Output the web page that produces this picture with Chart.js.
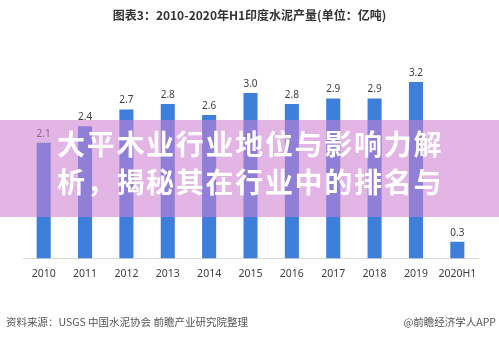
<!DOCTYPE html>
<html>
<head>
<meta charset="utf-8">
<script src="https://cdn.jsdelivr.net/npm/chart.js@4/dist/chart.umd.min.js"></script>
<style>
  html, body { margin: 0; padding: 0; background: #fff; }
  #wrap { position: relative; width: 499px; height: 338px; overflow: hidden; font-family: "Noto Sans CJK SC", "Noto Sans", sans-serif; }
  #chart { position: absolute; left: 0; top: 0; }
  .title { position: absolute; top: 6px; left: 0; width: 499px; text-align: center; font-size: 12px; font-weight: bold; color: #333; }
  .band { position: absolute; left: 0; top: 120px; width: 499px; height: 97px; background: rgba(205, 128, 210, 0.58); }
  .band div { position: absolute; left: 57px; color: #fff; font-size: 28px; font-weight: bold; letter-spacing: 1.7px; white-space: nowrap; line-height: 30px; }
  .src { position: absolute; left: 6px; top: 314px; font-size: 10.5px; color: #555; }
  .app { position: absolute; right: 3px; top: 314px; font-size: 10.5px; color: #555; }
</style>
</head>
<body>
<div id="wrap">
  <canvas id="chart" width="499" height="338"></canvas>
  <div class="title">图表3：2010-2020年H1印度水泥产量(单位：亿吨)</div>
  <div class="band">
    <div style="top: 8px;">大平木业行业地位与影响力解</div>
    <div style="top: 46px;">析，揭秘其在行业中的排名与</div>
  </div>
  <div class="src">资料来源：USGS 中国水泥协会 前瞻产业研究院整理</div>
  <div class="app">@前瞻经济学人APP</div>
</div>
<script>
// data
const years = ['2010', '2011', '2012', '2013', '2014', '2015', '2016', '2017', '2018', '2019', '2020H1'];
const output = [2.1, 2.4, 2.7, 2.8, 2.6, 3.0, 2.8, 2.9, 2.9, 3.2, 0.3];

// value labels above bars
const valueLabels = {
    id: 'valueLabels',
    afterDatasetsDraw(chart) {
        const ctx = chart.ctx;
        const meta = chart.getDatasetMeta(0);
        ctx.save();
        ctx.font = '10px "Noto Sans", sans-serif';
        ctx.fillStyle = '#404040';
        ctx.textAlign = 'center';
        ctx.textBaseline = 'bottom';
        meta.data.forEach((bar, i) => {
            ctx.fillText(output[i].toFixed(1), bar.x, bar.y - 4);
        });
        ctx.restore();
    }
};

new Chart(document.getElementById('chart').getContext('2d'), {
    type: 'bar',
    data: {
        labels: years,
        datasets: [{ data: output, backgroundColor: '#3d7fdb', barPercentage: 0.34, categoryPercentage: 1 }]
    },
    options: {
        responsive: false,
        animation: false,
        layout: { padding: { left: 23, right: 21, top: 60, bottom: 57 } },
        plugins: { legend: { display: false }, tooltip: { enabled: false } },
        scales: {
            y: { display: false, min: 0, max: 3.6 },
            x: {
                grid: { display: false },
                border: { color: '#d9d9d9' },
                ticks: { color: '#404040', font: { size: 10.5, family: '"Noto Sans", sans-serif' }, padding: 1, maxRotation: 0 }
            }
        }
    },
    plugins: [valueLabels]
});
</script>
</body>
</html>
